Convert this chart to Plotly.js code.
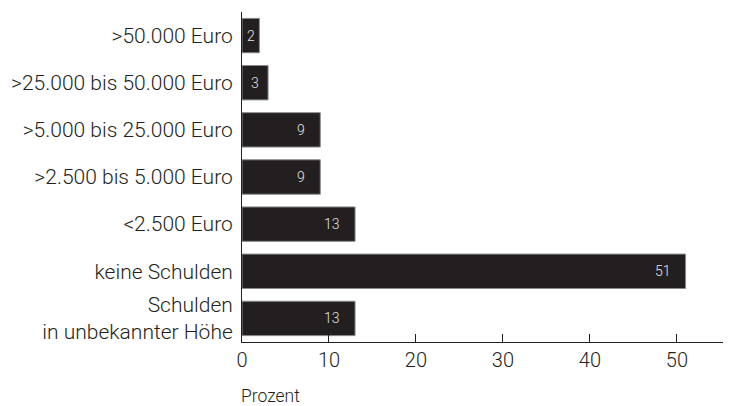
<!DOCTYPE html>
<html><head><meta charset="utf-8">
<script src="https://cdn.plot.ly/plotly-3.0.1.min.js"></script>
<style>html,body{margin:0;padding:0;background:#fff}#chart{width:730px;height:406px}</style>
</head><body><div id="chart"></div>
<script>
const categories = [">50.000 Euro", ">25.000 bis 50.000 Euro", ">5.000 bis 25.000 Euro", ">2.500 bis 5.000 Euro", "<2.500 Euro", "keine Schulden", "Schulden<br>in unbekannter Höhe"];
const values = [2, 3, 9, 9, 13, 51, 13];
const tickValues = [0, 10, 20, 30, 40, 50];
const axisTitle = "Prozent";

const FONT = "Roboto, Liberation Sans, Arial, sans-serif";
const dark = "#231f20";
const xMax = 55.3;

const annotations = values.map((v, i) => {
  const small = v < 5;
  return {
    x: small ? v / 2 : v, y: categories[i], xref: 'x', yref: 'y',
    text: String(v), showarrow: false,
    xanchor: small ? 'center' : 'right', xshift: small ? 0 : -13,
    font: {family: FONT, size: 14, color: '#e3e3e3', weight: 300}
  };
});
annotations.push({
  xref: 'paper', yref: 'paper', x: 0, y: -0.165, xanchor: 'left', yanchor: 'middle',
  text: axisTitle, showarrow: false, xshift: -3,
  font: {family: FONT, size: 17.5, color: dark, weight: 300}
});

const trace = {
  type: 'bar', orientation: 'h', y: categories, x: values,
  marker: {color: dark, line: {color: '#8c8c8c', width: 1}},
  hoverinfo: 'none'
};

const layout = {
  width: 730, height: 406,
  margin: {l: 242, r: 7, t: 12, b: 64},
  paper_bgcolor: '#fff', plot_bgcolor: '#fff',
  bargap: 0.27,
  showlegend: false,
  font: {family: FONT, color: dark, weight: 300},
  xaxis: {
    range: [0, xMax], showgrid: false, zeroline: false,
    showline: true, linecolor: dark, linewidth: 1,
    ticks: 'inside', ticklen: 8, tickwidth: 1, tickcolor: dark,
    tickvals: tickValues.concat([xMax]), ticktext: tickValues.map(String).concat(['']),
    tickfont: {family: FONT, size: 20, color: dark, weight: 300},
    fixedrange: true
  },
  yaxis: {
    autorange: 'reversed', showgrid: false, zeroline: false,
    showline: true, linecolor: dark, linewidth: 1,
    ticks: '', ticklabelstandoff: 4,
    tickfont: {family: FONT, size: 21, color: dark, weight: 300},
    fixedrange: true
  },
  annotations: annotations
};

Plotly.newPlot('chart', [trace], layout, {displayModeBar: false, staticPlot: true});
</script>
</body></html>
